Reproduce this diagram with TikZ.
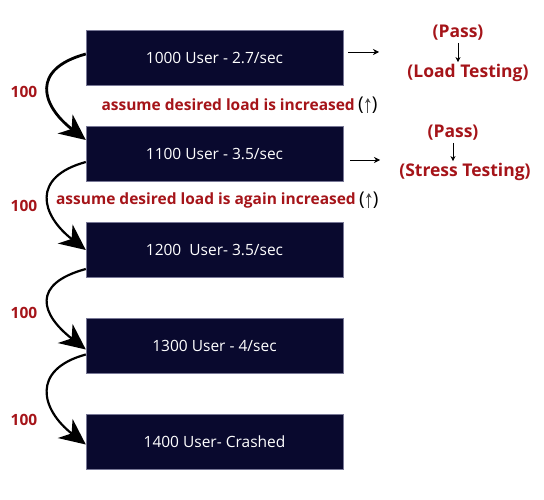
\documentclass[tikz,border=0pt]{standalone}
\usepackage{fontspec}
\setmainfont{Open Sans}
\usetikzlibrary{arrows.meta}
\definecolor{navybox}{RGB}{9,9,46}
\definecolor{boxline}{RGB}{120,120,150}
\definecolor{darkred}{RGB}{165,20,25}

\tikzstyle{userbox} = [draw=boxline, fill=navybox, text=white, rectangle,
    minimum width=257pt, minimum height=55pt, inner sep=0pt, font=\fontsize{15.5}{18}\selectfont]
\tikzstyle{redlabel} = [text=darkred, font=\bfseries\fontsize{15.5}{18}\selectfont, inner sep=0pt]
\tikzstyle{bigred} = [text=darkred, font=\bfseries\fontsize{17.5}{20}\selectfont, inner sep=0pt]
\tikzstyle{steparrow} = [-{Stealth[length=26pt,width=24pt,inset=8pt]}, line width=2.2pt]

\begin{document}
\begin{tikzpicture}[x=1pt,y=-1pt]
    \useasboundingbox (0,0) rectangle (544,500);
%------------ Lastschritte ---------------------
    \node [userbox] (b1) at (214.5,57.5) {1000 User - 2.7/sec};
    \node [userbox] (b2) at (214.5,154) {1100 User - 3.5/sec};
    \node [userbox] (b3) at (214.5,250) {1200\ \ User- 3.5/sec};
    \node [userbox] (b4) at (214.5,345.5) {1300 User - 4/sec};
    \node [userbox] (b5) at (214.5,441.5) {1400 User- Crashed};
%------------ Kurvenpfeile ---------------------
    \draw [steparrow, line width=2.8pt] ([yshift=3.5pt]b1.west) .. controls +(-55,15) and +(-45,-35) .. ([yshift=14pt]b2.west);
    \draw [steparrow] ([yshift=-8pt]b2.west) .. controls +(-55,15) and +(-45,-35) .. (b3.west);
    \draw [steparrow] ([yshift=-19pt]b3.west) .. controls +(-55,15) and +(-45,-35) .. ([yshift=-4pt]b4.west);
    \draw [steparrow] ([yshift=-9pt]b4.west) .. controls +(-55,15) and +(-45,-35) .. ([yshift=-3pt]b5.west);
    \node [redlabel] (n1) at (24,92) {100};
    \node [redlabel] (n2) at (24,206) {100};
    \node [redlabel] (n3) at (24,313) {100};
    \node [redlabel] (n4) at (24,420) {100};
%------------ Annahmen ---------------------
    \node [redlabel, anchor=east] (a1) at (355,105) {assume desired load is increased};
    \node [anchor=west, inner xsep=0pt, xshift=3pt, font=\fontsize{19}{21}\selectfont] (u1) at (a1.east) {(\hspace{8pt})};
    \draw [-{Stealth[length=5pt,width=5.5pt]}, line width=1.1pt, black!70] ([yshift=-8pt]u1.center) -- ([yshift=7pt]u1.center);
    \node [redlabel, anchor=east] (a2) at (356,200) {assume desired load is again increased};
    \node [anchor=west, inner xsep=0pt, xshift=3pt, font=\fontsize{19}{21}\selectfont] (u2) at (a2.east) {(\hspace{8pt})};
    \draw [-{Stealth[length=5pt,width=5.5pt]}, line width=1.1pt, black!70] ([yshift=-8pt]u2.center) -- ([yshift=7pt]u2.center);
%------------ Ergebnisse ---------------------
    \coordinate (r1) at (379,52);
    \coordinate (r2) at (380,160);
    \draw [-{Stealth[length=6pt,width=6pt]}, semithick, shorten <=5pt] (b1.east |- r1) -- (r1);
    \draw [-{Stealth[length=6pt,width=6pt]}, semithick, shorten <=7pt] (b2.east |- r2) -- (r2);
    \node [bigred] (p1) at (458,33) {(Pass)};
    \node [bigred] (t1) at (468,73) {(Load Testing)};
    \draw [-{Stealth[length=5pt,width=5pt]}, semithick] ([yshift=-2pt]p1.south) -- ([yshift=2pt]t1.north -| p1.south);
    \node [bigred] (p2) at (453,133) {(Pass)};
    \node [bigred] (t2) at (465,172) {(Stress Testing)};
    \draw [-{Stealth[length=5pt,width=5pt]}, semithick] ([yshift=-2pt]p2.south) -- ([yshift=2pt]t2.north -| p2.south);
\end{tikzpicture}
\end{document}
